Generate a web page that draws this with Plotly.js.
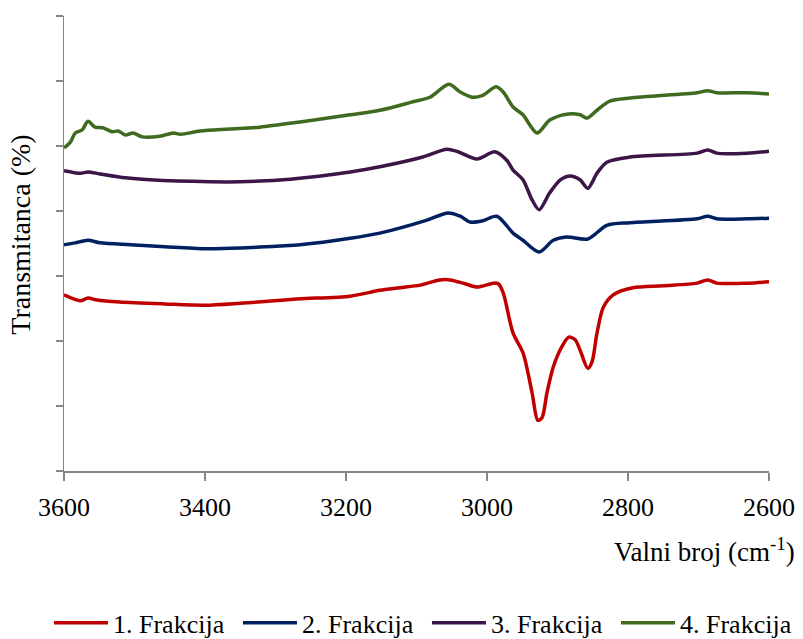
<!DOCTYPE html>
<html>
<head>
<meta charset="utf-8">
<script src="https://cdn.plot.ly/plotly-3.0.1.min.js"></script>
<style>html,body{margin:0;padding:0;background:#fff;}#chart{width:803px;height:639px;}</style>
</head>
<body>
<div id="chart"></div>
<script>
// Wavenumber (cm-1) and transmittance values per fraction
var seriesNames = ["1. Frakcija", "2. Frakcija", "3. Frakcija", "4. Frakcija"];
var seriesColors = ["#C00000", "#002060", "#3B1646", "#3F6A1F"];

var wn1 = [3600,3577,3566,3553,3521,3457,3400,3350,3287,3265,3194,3152,3123,3095,3067,3052,3031,3014,2991,2984,2977,2963,2949,2936,2928,2922,2915,2906,2894,2884,2875,2868,2857,2851,2844,2835,2821,2793,2750,2702,2687,2674,2631,2600];
var t1  = [27.1,26.2,26.6,26.3,26.0,25.7,25.5,25.8,26.3,26.5,26.9,27.8,28.2,28.6,29.4,29.4,28.8,28.3,28.9,28.8,27.4,21.2,18.2,12.0,7.8,8.2,12.0,16.0,19.1,20.6,20.2,18.6,15.8,16.8,21.2,25.2,27.1,28.2,28.5,28.9,29.4,28.9,28.9,29.1];

var wn2 = [3600,3584,3566,3549,3506,3457,3400,3350,3294,3265,3194,3152,3085,3055,3038,3024,3006,2986,2963,2949,2926,2906,2887,2857,2830,2797,2702,2687,2674,2631,2600];
var t2  = [34.8,35.1,35.5,35.1,34.8,34.5,34.2,34.3,34.6,34.8,35.8,36.6,38.6,39.7,39.2,38.3,38.5,39.2,36.6,35.5,33.7,35.5,36.0,35.7,37.8,38.2,38.8,39.2,38.8,38.8,38.9];

var wn3 = [3600,3577,3566,3549,3513,3478,3393,3350,3279,3194,3152,3091,3057,3043,3014,2989,2972,2963,2949,2936,2926,2911,2896,2882,2868,2857,2844,2830,2797,2702,2687,2674,2631,2600];
var t3  = [46.2,45.8,46.0,45.7,45.1,44.8,44.5,44.5,44.9,46.0,46.8,48.3,49.5,49.2,48.0,49.1,47.8,46.3,44.8,41.7,40.2,42.8,44.8,45.4,44.8,43.5,45.8,47.5,48.3,48.9,49.4,48.9,48.9,49.2];

var wn4 = [3600,3591,3584,3574,3566,3556,3545,3532,3523,3513,3502,3489,3464,3445,3435,3407,3365,3322,3265,3194,3152,3105,3081,3054,3038,3021,3006,2987,2977,2963,2949,2929,2911,2887,2868,2858,2844,2826,2797,2702,2687,2674,2631,2600];
var t4  = [49.7,50.6,52.0,52.5,53.8,52.9,52.8,52.2,52.3,51.7,52.0,51.4,51.5,52.0,51.8,52.3,52.6,52.9,53.7,54.8,55.5,56.8,57.5,59.5,58.3,57.5,57.8,59.1,58.3,56.0,54.8,52.0,54.0,54.9,54.8,54.3,55.5,56.9,57.4,58.2,58.5,58.2,58.2,58.0];

var xTickVals = [3600,3400,3200,3000,2800,2600];

var xs = [wn1, wn2, wn3, wn4];
var ys = [t1, t2, t3, t4];
var serif = "Liberation Serif";

var traces = [];
for (var i = 0; i < 4; i++) {
  traces.push({
    x: xs[i], y: ys[i], type: "scatter", mode: "lines",
    name: seriesNames[i],
    line: {color: seriesColors[i], width: 3.5, shape: "spline", smoothing: 0.8}
  });
}

var layout = {
  width: 803, height: 639,
  margin: {l: 64, r: 34, t: 16, b: 168, autoexpand: false},
  paper_bgcolor: "#fff", plot_bgcolor: "#fff",
  showlegend: true,
  font: {family: serif, size: 26, color: "#000"},
  xaxis: {
    range: [3600, 2600], autorange: false,
    tickvals: xTickVals, ticktext: xTickVals.map(String),
    ticks: "outside", ticklen: 8, tickwidth: 1.5, tickcolor: "#868686",
    ticklabelstandoff: 4,
    showline: true, linecolor: "#868686", linewidth: 1.5,
    showgrid: false, zeroline: false, automargin: false,
    tickfont: {family: serif, size: 26, color: "#000"}
  },
  yaxis: {
    range: [0, 70], autorange: false, dtick: 10, tick0: 0,
    ticks: "outside", ticklen: 7, tickwidth: 1.5, tickcolor: "#868686",
    showticklabels: false, automargin: false,
    showline: true, linecolor: "#868686", linewidth: 1.5,
    showgrid: false, zeroline: false
  },
  legend: {
    orientation: "h", xref: "paper", yref: "paper",
    x: -0.0213, xanchor: "left", y: -0.334, yanchor: "middle",
    itemwidth: 54, entrywidth: 120, entrywidthmode: "pixels",
    font: {family: serif, size: 26, color: "#000"},
    bgcolor: "rgba(0,0,0,0)", borderwidth: 0
  },
  annotations: [
    {text: "Valni broj (cm<sup>-1</sup>)", xref: "paper", yref: "paper", x: 1.04, y: -0.174,
     xanchor: "right", yanchor: "middle", showarrow: false, font: {family: serif, size: 27, color: "#000"}},
    {text: "Transmitanca (%)", xref: "paper", yref: "paper", x: -0.062, y: 0.52,
     xanchor: "center", yanchor: "middle", textangle: -90, showarrow: false, font: {family: serif, size: 28, color: "#000"}}
  ]
};

Plotly.newPlot("chart", traces, layout, {displayModeBar: false, staticPlot: true});
</script>
</body>
</html>
